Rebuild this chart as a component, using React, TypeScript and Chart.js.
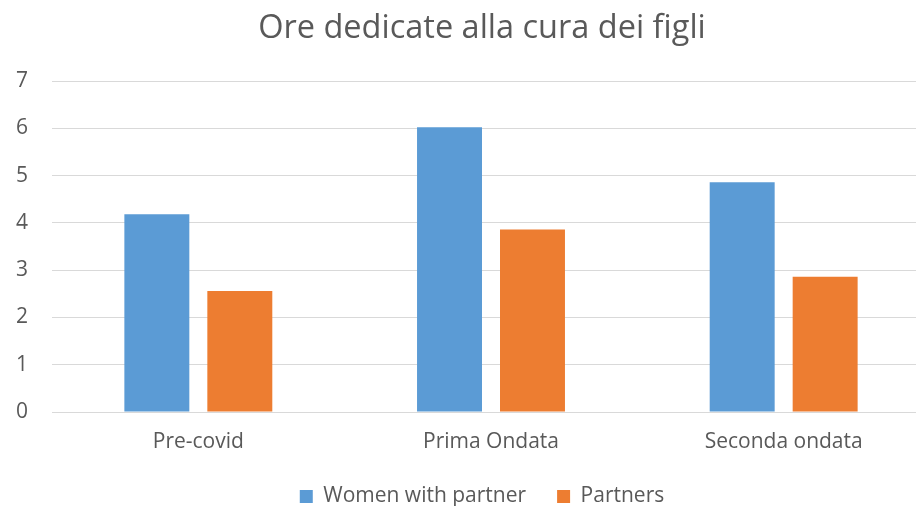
import React, { useEffect, useRef } from "react";
import { Chart, registerables } from "chart.js";

Chart.register(...registerables);

const categories = ["Pre-covid", "Prima Ondata", "Seconda ondata"];
const womenWithPartner = [4.18, 6.02, 4.86];
const partners = [2.56, 3.86, 2.86];
const seriesNames = ["Women with partner", "Partners"];
const titleText = "Ore dedicate alla cura dei figli";

const FONT = "'Open Sans', 'Noto Sans', sans-serif";
const TEXT = "#595959";

export default function App() {
  const ref = useRef<HTMLCanvasElement>(null);
  useEffect(() => {
    if (!ref.current) return;
    const chart = new Chart(ref.current, {
      type: "bar",
      data: {
        labels: categories,
        datasets: [
          {
            label: seriesNames[0],
            data: womenWithPartner,
            backgroundColor: "#5B9BD5",
            categoryPercentage: 0.567,
            barPercentage: 0.783,
          },
          {
            label: seriesNames[1],
            data: partners,
            backgroundColor: "#ED7D31",
            categoryPercentage: 0.567,
            barPercentage: 0.783,
          },
        ],
      },
      options: {
        animation: false,
        responsive: false,
        maintainAspectRatio: false,
        layout: { padding: { left: 34, right: 30, top: 0, bottom: 0 } },
        plugins: {
          title: {
            display: true,
            text: titleText,
            color: TEXT,
            font: { family: FONT, size: 32.5, weight: "normal" },
            padding: { top: 9, bottom: 33 },
          },
          legend: {
            display: true,
            position: "bottom",
            labels: {
              color: TEXT,
              font: { family: FONT, size: 21 },
              boxWidth: 13,
              boxHeight: 13,
              padding: 31,
            },
          },
          tooltip: { enabled: false },
        },
        scales: {
          x: {
            grid: { display: false, drawTicks: false },
            border: { display: true, color: "#D9D9D9", width: 1 },
            ticks: { color: TEXT, font: { family: FONT, size: 21 }, padding: 17 },
            afterFit: (scale: any) => {
              scale.height = 43;
            },
          },
          y: {
            min: 0,
            max: 7,
            grid: { color: "#D9D9D9", lineWidth: 1, drawTicks: false },
            border: { display: false },
            ticks: {
              stepSize: 1,
              color: TEXT,
              font: { family: FONT, size: 21 },
              padding: 24,
            },
            afterFit: (scale: any) => {
              scale.width = 18;
              // let tick labels draw to the left of the narrowed axis box
              scale._computeLabelArea = () => undefined;
            },
          },
        },
      },
    });
    return () => chart.destroy();
  }, []);
  return (
    <div
      style={{
        position: "fixed",
        left: 0,
        top: 0,
        width: 916,
        height: 506,
        overflow: "hidden",
        background: "#fff",
      }}
    >
      <canvas
        ref={ref}
        width={960}
        height={517}
        style={{ position: "absolute", left: 0, top: 0, width: 960, height: 517 }}
      />
    </div>
  );
}
